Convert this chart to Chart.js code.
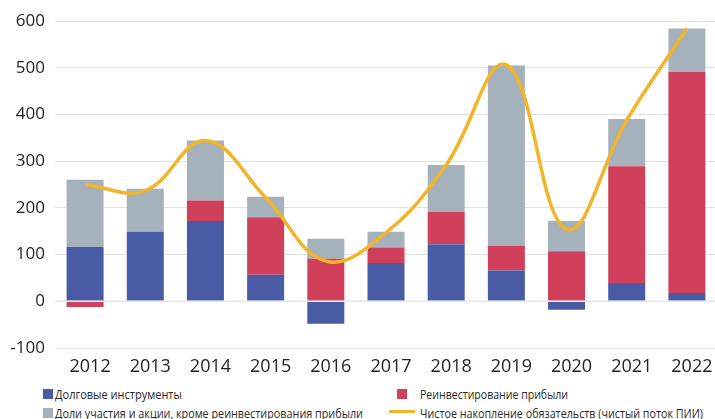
<!DOCTYPE html>
<html lang="ru">
<head>
<meta charset="utf-8">
<script src="https://cdn.jsdelivr.net/npm/chart.js@4.4.1/dist/chart.umd.min.js"></script>
<style>
    html, body { margin: 0; padding: 0; background: #fff; overflow: hidden; }
    #wrap { position: relative; width: 715px; height: 419px; overflow: hidden; }
    #box { position: absolute; left: 0; top: 0; width: 717px; height: 380px; }
    .legend { position: absolute; font-family: "Open Sans", "Noto Sans", sans-serif; font-size: 13px; color: #2b2b2b; white-space: nowrap; line-height: 14px; transform-origin: 0 50%; }
    .sq { position: absolute; width: 10px; height: 10px; }
    .ln { position: absolute; width: 26px; height: 3px; }
</style>
</head>
<body>
<div id="wrap">
    <div id="box"><canvas id="fdi-chart"></canvas></div>

    <div class="sq" style="left:43px; top:389px; background:#4a5ba6;"></div>
    <div class="legend" data-w="127" style="left:55px; top:387px;">Долговые инструменты</div>

    <div class="sq" style="left:43px; top:408px; background:#a5b1bb;"></div>
    <div class="legend" data-w="308" style="left:55px; top:406px;">Доли участия и акции, кроме реинвестирования прибыли</div>

    <div class="sq" style="left:397px; top:389px; background:#d1405a;"></div>
    <div class="legend" data-w="148" style="left:420px; top:387px;">Реинвестирование прибыли</div>

    <div class="ln" style="left:389px; top:410px; background:#f2b52a;"></div>
    <div class="legend" data-w="283" style="left:420px; top:406px;">Чистое накопление обязательств (чистый поток ПИИ)</div>
</div>

<script>
// Years on the x axis
const years = ['2012', '2013', '2014', '2015', '2016', '2017', '2018', '2019', '2020', '2021', '2022'];

// Components of the flow, stacked
const debtInstruments = [116, 149, 172, 57, -48, 82, 122, 66, -18, 39, 18];
const reinvestedEarnings = [-12, 0, 44, 123, 91, 33, 69, 53, 107, 250, 473];
const equityOther = [144, 92, 128, 44, 43, 34, 101, 386, 65, 101, 93];

// Net incurrence of liabilities (net FDI flow)
const netFlow = [250, 237, 344, 222, 86, 147, 292, 506, 154, 388, 584];

// Y axis range
const yMin = -100;
const yMax = 600;
const yStep = 100;

// Squeeze legend labels into a narrow, condensed look
document.querySelectorAll('.legend').forEach(el => {
    const target = parseFloat(el.dataset.w);
    const width = el.getBoundingClientRect().width;
    if (width > 0) {
        el.style.transform = `scaleX(${target / width})`;
    }
});

// Light line along zero, drawn over the bars
const zeroLine = {
    id: 'zeroLine',
    afterDatasetsDraw(chart) {
        const ctx = chart.ctx;
        const y = chart.scales.y.getPixelForValue(0);
        ctx.save();
        ctx.strokeStyle = '#e4e7ee';
        ctx.lineWidth = 1.5;
        ctx.beginPath();
        ctx.moveTo(chart.chartArea.left, y);
        ctx.lineTo(chart.chartArea.right, y);
        ctx.stroke();
        ctx.restore();
    }
};

const ctx = document.getElementById('fdi-chart').getContext('2d');
const chart = new Chart(ctx, {
    data: {
        labels: years,
        datasets: [
            {
                type: 'line',
                label: 'Чистое накопление обязательств (чистый поток ПИИ)',
                data: netFlow,
                borderColor: '#f2b52a',
                borderWidth: 3.5,
                pointRadius: 0,
                tension: 0.4,
                fill: false,
                stack: 'line',
                order: 0
            },
            {
                type: 'bar',
                label: 'Долговые инструменты',
                data: debtInstruments,
                backgroundColor: '#4a5ba6',
                stack: 'fdi',
                order: 1
            },
            {
                type: 'bar',
                label: 'Реинвестирование прибыли',
                data: reinvestedEarnings,
                backgroundColor: '#d1405a',
                stack: 'fdi',
                order: 1
            },
            {
                type: 'bar',
                label: 'Доли участия и акции, кроме реинвестирования прибыли',
                data: equityOther,
                backgroundColor: '#a5b1bb',
                stack: 'fdi',
                order: 1
            }
        ]
    },
    options: {
        responsive: true,
        maintainAspectRatio: false,
        animation: false,
        categoryPercentage: 1,
        barPercentage: 0.615,
        layout: { padding: { top: 21, right: 0, bottom: 0, left: 0 } },
        plugins: {
            legend: { display: false },
            tooltip: { enabled: false }
        },
        scales: {
            x: {
                stacked: true,
                grid: { display: false, drawTicks: false },
                border: { display: false },
                ticks: {
                    color: '#231f20',
                    padding: 8,
                    labelOffset: 5,
                    font: { family: '"Open Sans", "Noto Sans", sans-serif', size: 18 }
                },
                afterFit(scale) { scale.height = 32; }
            },
            y: {
                stacked: true,
                min: yMin,
                max: yMax,
                grid: { color: '#e3e3e3', lineWidth: 1, drawTicks: false },
                border: { display: false },
                ticks: {
                    stepSize: yStep,
                    color: '#231f20',
                    padding: 10,
                    font: { family: '"Open Sans", "Noto Sans", sans-serif', size: 17 }
                },
                afterFit(scale) { scale.width = 55; }
            }
        }
    },
    plugins: [zeroLine]
});
</script>
</body>
</html>
